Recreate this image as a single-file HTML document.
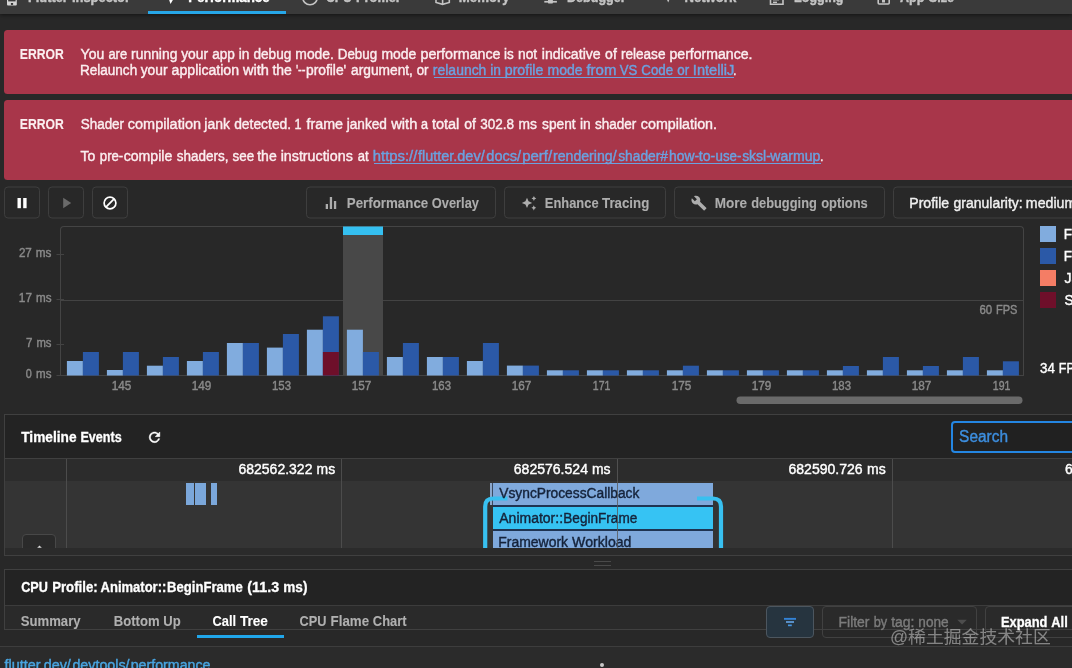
<!DOCTYPE html>
<html><head><meta charset="utf-8"><title>Flutter DevTools - Performance</title>
<style>
html,body{margin:0;padding:0;background:#282828;}
body{width:1072px;height:668px;overflow:hidden;position:relative;font-family:'Liberation Sans','Noto Sans CJK SC',sans-serif;}
.t{position:absolute;left:0;white-space:pre;transform-origin:0 0;font-family:'Liberation Sans','Noto Sans CJK SC',sans-serif;}
.abs{position:absolute;}
.card{position:absolute;left:4px;width:1080px;background:#a8364a;border-radius:3.5px;}
.btn{position:absolute;top:187px;height:30px;transform:translateY(-0.5px);border:1px solid #3e3e3e;border-radius:4px;background:#282828;}
.hl{position:absolute;height:1px;background:#404040;}
svg{position:absolute;left:0;top:0;overflow:visible;}
</style></head><body>
<!-- top tab bar -->
<div class="abs" style="left:0;top:0;width:1072px;height:14px;background:#3a3a3a;box-shadow:0 1px 4px rgba(0,0,0,0.55);"></div>
<div class="abs" style="left:148px;top:11.3px;width:138px;height:2.7px;background:#27a7e8;"></div>

<!-- error cards -->
<div class="card" style="top:30px;height:64px;"></div>
<div class="card" style="top:100px;height:80px;"></div>

<!-- toolbar buttons -->
<div class="btn" style="left:4px;width:34px;"></div>
<div class="btn" style="left:48px;width:34px;"></div>
<div class="btn" style="left:92px;width:34px;"></div>
<div class="btn" style="left:306px;width:188px;"></div>
<div class="btn" style="left:504px;width:160px;"></div>
<div class="btn" style="left:674px;width:209px;"></div>
<div class="btn" style="left:893px;width:200px;"></div>

<!-- chart -->
<div class="abs" style="left:60px;top:226px;width:964px;height:160px;border:1px solid #444;border-bottom:none;border-radius:4px 4px 0 0;box-sizing:border-box;height:150px;"></div>
<svg width="1072" height="668" viewBox="0 0 1072 668">
<g stroke="#434343" stroke-width="1">
<line x1="56.5" y1="254.5" x2="64" y2="254.5"/>
<line x1="56.5" y1="299.5" x2="64" y2="299.5"/><line x1="61" y1="300.5" x2="1023.5" y2="300.5"/>
<line x1="56.5" y1="344.5" x2="64" y2="344.5"/>
<line x1="56.5" y1="375.5" x2="1023.5" y2="375.5"/>
</g>
<rect x="343" y="226.5" width="40" height="149" fill="#484848"/><rect x="343" y="226.5" width="40" height="8.5" fill="#35c0f1"/>
<rect x="66.9" y="361" width="16" height="14.5" fill="#81acde"/><rect x="82.9" y="352" width="16" height="23.5" fill="#2b59a7"/><rect x="106.9" y="370" width="16" height="5.5" fill="#81acde"/><rect x="122.9" y="352" width="16" height="23.5" fill="#2b59a7"/><rect x="146.9" y="365.7" width="16" height="9.8" fill="#81acde"/><rect x="162.9" y="357" width="16" height="18.5" fill="#2b59a7"/><rect x="186.9" y="361" width="16" height="14.5" fill="#81acde"/><rect x="202.9" y="352" width="16" height="23.5" fill="#2b59a7"/><rect x="226.9" y="343" width="16" height="32.5" fill="#81acde"/><rect x="242.9" y="343" width="16" height="32.5" fill="#2b59a7"/><rect x="266.9" y="347.6" width="16" height="27.9" fill="#81acde"/><rect x="282.9" y="334" width="16" height="41.5" fill="#2b59a7"/><rect x="306.9" y="329.7" width="16" height="45.8" fill="#81acde"/><rect x="322.9" y="316.3" width="16" height="59.2" fill="#2b59a7"/><rect x="322.9" y="352" width="16" height="23.5" fill="#6e0f2a"/><rect x="346.9" y="329.7" width="16" height="45.8" fill="#81acde"/><rect x="362.9" y="352" width="16" height="23.5" fill="#2b59a7"/><rect x="386.9" y="357" width="16" height="18.5" fill="#81acde"/><rect x="402.9" y="343" width="16" height="32.5" fill="#2b59a7"/><rect x="426.9" y="357" width="16" height="18.5" fill="#81acde"/><rect x="442.9" y="357" width="16" height="18.5" fill="#2b59a7"/><rect x="466.9" y="361" width="16" height="14.5" fill="#81acde"/><rect x="482.9" y="343" width="16" height="32.5" fill="#2b59a7"/><rect x="506.9" y="365.6" width="16" height="9.9" fill="#81acde"/><rect x="522.9" y="365.6" width="16" height="9.9" fill="#2b59a7"/><rect x="546.9" y="370.3" width="16" height="5.2" fill="#81acde"/><rect x="562.9" y="370.3" width="16" height="5.2" fill="#2b59a7"/><rect x="586.9" y="370.3" width="16" height="5.2" fill="#81acde"/><rect x="602.9" y="370.3" width="16" height="5.2" fill="#2b59a7"/><rect x="626.9" y="370.3" width="16" height="5.2" fill="#81acde"/><rect x="642.9" y="370.3" width="16" height="5.2" fill="#2b59a7"/><rect x="666.9" y="370.3" width="16" height="5.2" fill="#81acde"/><rect x="682.9" y="365.7" width="16" height="9.8" fill="#2b59a7"/><rect x="706.9" y="370.3" width="16" height="5.2" fill="#81acde"/><rect x="722.9" y="370.3" width="16" height="5.2" fill="#2b59a7"/><rect x="746.9" y="370.3" width="16" height="5.2" fill="#81acde"/><rect x="762.9" y="370.3" width="16" height="5.2" fill="#2b59a7"/><rect x="786.9" y="370.3" width="16" height="5.2" fill="#81acde"/><rect x="802.9" y="370.3" width="16" height="5.2" fill="#2b59a7"/><rect x="826.9" y="370.3" width="16" height="5.2" fill="#81acde"/><rect x="842.9" y="366" width="16" height="9.5" fill="#2b59a7"/><rect x="866.9" y="370.3" width="16" height="5.2" fill="#81acde"/><rect x="882.9" y="357" width="16" height="18.5" fill="#2b59a7"/><rect x="906.9" y="370.3" width="16" height="5.2" fill="#81acde"/><rect x="922.9" y="366" width="16" height="9.5" fill="#2b59a7"/><rect x="946.9" y="370.3" width="16" height="5.2" fill="#81acde"/><rect x="962.9" y="357" width="16" height="18.5" fill="#2b59a7"/><rect x="986.9" y="370.3" width="16" height="5.2" fill="#81acde"/><rect x="1002.9" y="361.3" width="16" height="14.2" fill="#2b59a7"/>
<rect x="736.5" y="396.5" width="286" height="7.5" rx="3.75" fill="#6a6a6a"/>
<!-- legend -->
<rect x="1040" y="226" width="16" height="16" fill="#81acde"/>
<rect x="1040" y="248" width="16" height="16" fill="#2b59a7"/>
<rect x="1040" y="270" width="16" height="16" fill="#f47d65"/>
<rect x="1040" y="292" width="16" height="16" fill="#6e0f2a"/>
</svg>

<!-- timeline events panel -->
<div class="abs" style="left:4px;top:414px;width:1080px;height:142px;border:1px solid #404040;box-sizing:border-box;background:#2b2b2b;"></div>
<div class="abs" style="left:5px;top:415px;width:1067px;height:43px;background:#232323;"></div>
<div class="hl" style="left:5px;top:458px;width:1067px;"></div>
<div class="abs" style="left:5px;top:459px;width:1067px;height:22px;background:#2c2c2c;"></div>
<div class="abs" style="left:5px;top:481px;width:1067px;height:67px;background:#343434;"></div>
<!-- vertical grid lines -->
<div class="abs" style="left:66px;top:459px;width:1px;height:89px;background:#4c4c4c;"></div>
<div class="abs" style="left:341px;top:459px;width:1px;height:89px;background:#4c4c4c;"></div>
<div class="abs" style="left:892px;top:459px;width:1px;height:89px;background:#4c4c4c;"></div>
<!-- small events -->
<div class="abs" style="left:186px;top:483px;width:7.5px;height:22px;background:#7ba7da;"></div>
<div class="abs" style="left:194.7px;top:483px;width:11.3px;height:22px;background:#7ba7da;"></div>
<div class="abs" style="left:210.5px;top:483px;width:6px;height:22px;background:#7ba7da;"></div>
<!-- expand button bottom-left -->
<div class="abs" style="left:22px;top:534px;width:34px;height:14px;overflow:hidden;"><div style="width:32px;height:30px;border:1px solid #484848;border-radius:4px;background:#2a2a2a;"></div></div>
<!-- events -->
<div class="abs" style="left:0;top:0;width:1072px;height:547.8px;overflow:hidden;will-change:transform;">
<div class="abs" style="left:490.2px;top:482.8px;width:1.6px;height:22.4px;background:#8ba7cc;"></div>
<div class="abs" style="left:491.8px;top:482.8px;width:1.2px;height:22.4px;background:#3b4a60;"></div>
<div class="abs" style="left:493px;top:482.8px;width:219.6px;height:70px;background:#1f3452;"></div>
<div class="abs" style="left:493px;top:482.8px;width:219.6px;height:22.4px;background:#7fa9dc;"></div>
<div class="abs" style="left:493px;top:507px;width:219.6px;height:21.7px;background:#36c3f3;"></div>
<div class="abs" style="left:493px;top:530.5px;width:219.6px;height:22px;background:#7fa9dc;"></div>
<svg width="1072" height="668" viewBox="0 0 1072 668" fill="none" stroke="#38c0f0" stroke-width="4.2">
<path d="M485.200 560 V506.500 Q485.200 498.500 493.200 498.500 H507.500"/>
<path d="M721 560 V506.500 Q721 498.500 713 498.500 H697"/>
</svg>
<div><span class="t" style="top:486px;font-size:14px;line-height:14px;color:#15233a;transform:translateX(499.27px) scaleX(0.9841);-webkit-text-stroke:0.4px currentColor;">VsyncProcessCallback</span></div>
<div><span class="t" style="top:511px;font-size:14px;line-height:14px;color:#15233a;transform:translateX(499.29px) scaleX(0.9991);-webkit-text-stroke:0.4px currentColor;">Animator::</span><span class="t" style="top:511px;font-size:14px;line-height:14px;color:#15233a;transform:translateX(563.27px) scaleX(0.9702);-webkit-text-stroke:0.4px currentColor;">BeginFrame</span></div>
<div><span class="t" style="top:535px;font-size:14px;line-height:14px;color:#15233a;transform:translateX(498.28px) scaleX(0.9962);-webkit-text-stroke:0.4px currentColor;">Framework </span><span class="t" style="top:535px;font-size:14px;line-height:14px;color:#15233a;transform:translateX(572.12px) scaleX(1.0070);-webkit-text-stroke:0.4px currentColor;">Workload</span></div>
</div>
<div class="abs" style="left:617px;top:459px;width:1px;height:89px;background:rgba(90,90,90,0.8);"></div>

<!-- splitter -->
<div class="abs" style="left:594px;top:561px;width:17px;height:1px;background:#4a4a4a;"></div>
<div class="abs" style="left:594px;top:565px;width:17px;height:1px;background:#4a4a4a;"></div>

<!-- cpu profile panel -->
<div class="abs" style="left:4px;top:569px;width:1080px;height:61px;border:1px solid #404040;box-sizing:border-box;background:#2a2a2a;"></div>
<div class="abs" style="left:5px;top:570px;width:1067px;height:35px;background:#232323;"></div>
<div class="hl" style="left:5px;top:605px;width:1067px;background:#3c3c3c;"></div>
<div class="abs" style="left:197px;top:634.5px;width:87px;height:3.5px;background:#20a6ea;"></div>
<div class="hl" style="left:0;top:645.5px;width:1072px;background:#3d3d3d;"></div>
<div class="abs" style="left:0;top:647px;width:1072px;height:21px;background:#2b2b2b;"></div>
<!-- filter btn -->
<div class="abs" style="left:766px;top:606px;width:48px;height:32px;box-sizing:border-box;border:1px solid #4c565f;border-radius:4px;background:#26343f;"></div>
<div class="abs" style="left:822px;top:606px;width:155px;height:32px;box-sizing:border-box;border:1px solid #414141;border-radius:4px;"></div>
<div class="abs" style="left:985px;top:606px;width:100px;height:32px;box-sizing:border-box;border:1px solid #414141;border-radius:4px;"></div>
<!-- search -->
<div class="abs" style="left:951px;top:420.5px;width:140px;height:32px;box-sizing:border-box;border:2px solid #2486e2;border-radius:4px;background:#212121;"></div>
<div class="abs" style="left:599.5px;top:663px;width:4px;height:4px;border-radius:2px;background:#c8c8c8;"></div>

<!-- icons -->
<svg width="1072" height="668" viewBox="0 0 1072 668">
<!-- pause -->
<rect x="17.5" y="198" width="3.4" height="10.2" fill="#fff"/><rect x="23.2" y="198" width="3.4" height="10.2" fill="#fff"/>
<!-- play -->
<path d="M63.2 197.8 L71.2 203 L63.2 208.2 Z" fill="#6a6a6a"/>
<!-- block -->
<circle cx="110" cy="203" r="5.9" fill="none" stroke="#fff" stroke-width="1.7"/><line x1="105.9" y1="207.1" x2="114.1" y2="198.9" stroke="#fff" stroke-width="1.7"/>
<!-- bar chart -->
<g fill="#adadad"><rect x="325.7" y="204" width="2.3" height="5"/><rect x="329.8" y="197" width="2.3" height="12"/><rect x="333.9" y="201" width="2.3" height="8"/></g>
<!-- sparkles -->
<g fill="#adadad">
<path d="M527 197.8 L528.56 201.37 L532.2 202.9 L528.56 204.43 L527 208.0 L525.44 204.43 L521.8 202.9 L525.44 201.37 Z"/>
<path d="M533.9 195.9 L534.69 197.58 L536.3 198.4 L534.69 199.22 L533.9 200.9 L533.11 199.22 L531.5 198.4 L533.11 197.58 Z"/>
<path d="M533.8 205.20000000000002 L534.59 206.94 L536.1999999999999 207.8 L534.59 208.66 L533.8 210.4 L533.01 208.66 L531.4 207.8 L533.01 206.94 Z"/>
</g>
<!-- wrench -->
<g transform="translate(690.8,195.1) scale(0.68,0.672)"><path fill="#adadad" d="M22.7 19l-9.1-9.1c.9-2.3.4-5-1.500-6.900-2-2-5-2.400-7.400-1.300L9 6 6 9 1.600 4.700C.4 7.100.9 10.100 2.900 12.100c1.900 1.900 4.600 2.400 6.900 1.500l9.100 9.100c.4.400 1 .4 1.400 0l2.300-2.300c.5-.4.500-1.100.1-1.400z"/></g>
<!-- refresh -->
<g transform="translate(146.5,429.3) scale(0.667)"><path fill="#fff" stroke="#fff" stroke-width="0.7" d="M17.650 6.350C16.200 4.900 14.210 4 12 4c-4.420 0-7.990 3.580-7.990 8s3.570 8 7.990 8c3.730 0 6.840-2.550 7.730-6h-2.080c-.82 2.330-3.040 4-5.650 4-3.310 0-6-2.690-6-6s2.690-6 6-6c1.660 0 3.140.69 4.220 1.780L13 11h7V4l-2.350 2.350z"/></g>
<!-- filter list -->
<rect x="784" y="617.9" width="12" height="1.9" fill="#3383d6"/><rect x="786" y="621.1" width="8" height="1.8" fill="#5f9ad6"/><rect x="788" y="624.5" width="3.8" height="1.7" fill="#4595e0"/>
<!-- dropdown arrow -->
<path d="M957.3 619.8 L966.8 619.8 L962.05 624.5 Z" fill="#4d4d4d"/>
<!-- expand chevron (clipped) -->
<path d="M36 550.2 L39.5 546.7 L43 550.2" fill="none" stroke="#ddd" stroke-width="1.6" clip-path="url(#cpc)"/>
<clipPath id="cpc"><rect x="30" y="540" width="20" height="7.8"/></clipPath>
</svg>

<!-- top tab icons (clipped by viewport) -->
<svg width="1072" height="14" viewBox="0 0 1072 14" style="overflow:hidden">
<g fill="none" stroke="#c4c4c4" stroke-width="1.6">
<circle cx="310" cy="-2.6" r="7.3"/>
<path d="M436 -6 V2.500 L442.600 4.300 L449.300 2.500 V-6"/><path d="M442.600 -4 V4.300"/>
<rect x="878.2" y="-8" width="11" height="12" rx="1"/>
<path d="M770.500 -8 V4.200 H783 V-8"/>
</g>
<rect x="7" y="-8" width="9.800" height="13.600" rx="1" fill="#d4d4d4"/><rect x="8.200" y="-6" width="7.400" height="7.400" fill="#3a3a3a"/><rect x="10.900" y="3.100" width="2.200" height="1.700" fill="#222"/>
<path d="M167.800 -4 L175.300 -4 L170.500 3.900 Z" fill="#fff"/>
<path d="M665.800 -3 H670.600 L668.200 2.600 Z" fill="#c4c4c4"/>
<rect x="548" y="-8" width="4.900" height="11.600" rx="1.200" fill="#c4c4c4"/><rect x="544.300" y="0.900" width="12.600" height="1.700" fill="#c4c4c4"/>
<rect x="882" y="0" width="3" height="2.500" fill="#c4c4c4"/>
<rect x="773" y="-1" width="6" height="1.400" fill="#c4c4c4"/><rect x="773" y="1.600" width="4" height="1.400" fill="#c4c4c4"/>
</svg>

<!-- text -->
<div class="abs" style="left:0;top:0;width:1072px;height:668px;will-change:transform;">
<div><span class="t" style="top:-10px;font-size:14px;line-height:14px;color:#c4c4c4;transform:translateX(27.97px) scaleX(0.9140);-webkit-text-stroke:0.45px currentColor;font-weight:bold;">Flutter </span><span class="t" style="top:-10px;font-size:14px;line-height:14px;color:#c4c4c4;transform:translateX(71.92px) scaleX(0.9219);-webkit-text-stroke:0.45px currentColor;font-weight:bold;">Inspector</span></div>
<div><span class="t" style="top:-10px;font-size:14px;line-height:14px;color:#ffffff;transform:translateX(188.14px) scaleX(0.9521);-webkit-text-stroke:0.45px currentColor;font-weight:bold;">Performance</span></div>
<div><span class="t" style="top:-10px;font-size:14px;line-height:14px;color:#c4c4c4;transform:translateX(326.00px) scaleX(0.8726);-webkit-text-stroke:0.45px currentColor;font-weight:bold;">CPU </span><span class="t" style="top:-10px;font-size:14px;line-height:14px;color:#c4c4c4;transform:translateX(356.02px) scaleX(0.9139);-webkit-text-stroke:0.45px currentColor;font-weight:bold;">Profiler</span></div>
<div><span class="t" style="top:-10px;font-size:14px;line-height:14px;color:#c4c4c4;transform:translateX(458.85px) scaleX(0.9435);-webkit-text-stroke:0.45px currentColor;font-weight:bold;">Memory</span></div>
<div><span class="t" style="top:-10px;font-size:14px;line-height:14px;color:#c4c4c4;transform:translateX(566.97px) scaleX(0.8989);-webkit-text-stroke:0.45px currentColor;font-weight:bold;">Debugger</span></div>
<div><span class="t" style="top:-10px;font-size:14px;line-height:14px;color:#c4c4c4;transform:translateX(684.45px) scaleX(0.9364);-webkit-text-stroke:0.45px currentColor;font-weight:bold;">Network</span></div>
<div><span class="t" style="top:-10px;font-size:14px;line-height:14px;color:#c4c4c4;transform:translateX(794.08px) scaleX(0.8950);-webkit-text-stroke:0.45px currentColor;font-weight:bold;">Logging</span></div>
<div><span class="t" style="top:-10px;font-size:14px;line-height:14px;color:#c4c4c4;transform:translateX(900.00px) scaleX(0.8946);-webkit-text-stroke:0.45px currentColor;font-weight:bold;">App </span><span class="t" style="top:-10px;font-size:14px;line-height:14px;color:#c4c4c4;transform:translateX(928.72px) scaleX(0.9029);-webkit-text-stroke:0.45px currentColor;font-weight:bold;">Size</span></div>
<div><span class="t" style="top:47px;font-size:14px;line-height:14px;color:#fbeef0;transform:translateX(19.82px) scaleX(0.8699);-webkit-text-stroke:0.1px currentColor;font-weight:bold;">ERROR</span></div>
<div><span class="t" style="top:47px;font-size:14px;line-height:14px;color:#fbeef0;transform:translateX(80.60px) scaleX(0.9985);-webkit-text-stroke:0.4px currentColor;">You </span><span class="t" style="top:47px;font-size:14px;line-height:14px;color:#fbeef0;transform:translateX(108.42px) scaleX(0.9224);-webkit-text-stroke:0.4px currentColor;">are </span><span class="t" style="top:47px;font-size:14px;line-height:14px;color:#fbeef0;transform:translateX(131.10px) scaleX(0.9902);-webkit-text-stroke:0.4px currentColor;">running </span><span class="t" style="top:47px;font-size:14px;line-height:14px;color:#fbeef0;transform:translateX(181.19px) scaleX(0.9892);-webkit-text-stroke:0.4px currentColor;">your </span><span class="t" style="top:47px;font-size:14px;line-height:14px;color:#fbeef0;transform:translateX(212.22px) scaleX(0.9674);-webkit-text-stroke:0.4px currentColor;">app </span><span class="t" style="top:47px;font-size:14px;line-height:14px;color:#fbeef0;transform:translateX(238.68px) scaleX(0.9816);-webkit-text-stroke:0.4px currentColor;">in </span><span class="t" style="top:47px;font-size:14px;line-height:14px;color:#fbeef0;transform:translateX(253.49px) scaleX(0.9707);-webkit-text-stroke:0.4px currentColor;">debug </span><span class="t" style="top:47px;font-size:14px;line-height:14px;color:#fbeef0;transform:translateX(295.31px) scaleX(0.9920);-webkit-text-stroke:0.4px currentColor;">mode. </span><span class="t" style="top:47px;font-size:14px;line-height:14px;color:#fbeef0;transform:translateX(337.83px) scaleX(0.9521);-webkit-text-stroke:0.4px currentColor;">Debug </span><span class="t" style="top:47px;font-size:14px;line-height:14px;color:#fbeef0;transform:translateX(381.45px) scaleX(0.9961);-webkit-text-stroke:0.4px currentColor;">mode </span><span class="t" style="top:47px;font-size:14px;line-height:14px;color:#fbeef0;transform:translateX(420.49px) scaleX(1.0187);-webkit-text-stroke:0.4px currentColor;">performance </span><span class="t" style="top:47px;font-size:14px;line-height:14px;color:#fbeef0;transform:translateX(504.04px) scaleX(0.9577);-webkit-text-stroke:0.4px currentColor;">is </span><span class="t" style="top:47px;font-size:14px;line-height:14px;color:#fbeef0;transform:translateX(518.01px) scaleX(0.9833);-webkit-text-stroke:0.4px currentColor;">not </span><span class="t" style="top:47px;font-size:14px;line-height:14px;color:#fbeef0;transform:translateX(541.82px) scaleX(1.0091);-webkit-text-stroke:0.4px currentColor;">indicative </span><span class="t" style="top:47px;font-size:14px;line-height:14px;color:#fbeef0;transform:translateX(605.09px) scaleX(1.0000);-webkit-text-stroke:0.4px currentColor;">of </span><span class="t" style="top:47px;font-size:14px;line-height:14px;color:#fbeef0;transform:translateX(620.92px) scaleX(0.9697);-webkit-text-stroke:0.4px currentColor;">release </span><span class="t" style="top:47px;font-size:14px;line-height:14px;color:#fbeef0;transform:translateX(669.45px) scaleX(1.0072);-webkit-text-stroke:0.4px currentColor;">performance.</span></div>
<div><span class="t" style="top:63px;font-size:14px;line-height:14px;color:#fbeef0;transform:translateX(79.90px) scaleX(0.9686);-webkit-text-stroke:0.4px currentColor;">Relaunch </span><span class="t" style="top:63px;font-size:14px;line-height:14px;color:#fbeef0;transform:translateX(140.65px) scaleX(0.9864);-webkit-text-stroke:0.4px currentColor;">your </span><span class="t" style="top:63px;font-size:14px;line-height:14px;color:#fbeef0;transform:translateX(171.60px) scaleX(1.0075);-webkit-text-stroke:0.4px currentColor;">application </span><span class="t" style="top:63px;font-size:14px;line-height:14px;color:#fbeef0;transform:translateX(242.95px) scaleX(1.0416);-webkit-text-stroke:0.4px currentColor;">with </span><span class="t" style="top:63px;font-size:14px;line-height:14px;color:#fbeef0;transform:translateX(272.39px) scaleX(1.0004);-webkit-text-stroke:0.4px currentColor;">the </span><span class="t" style="top:63px;font-size:14px;line-height:14px;color:#fbeef0;transform:translateX(295.98px) scaleX(0.8000);-webkit-text-stroke:0.4px currentColor;">'--</span><span class="t" style="top:63px;font-size:14px;line-height:14px;color:#fbeef0;transform:translateX(305.95px) scaleX(0.9876);-webkit-text-stroke:0.4px currentColor;">profile' </span><span class="t" style="top:63px;font-size:14px;line-height:14px;color:#fbeef0;transform:translateX(351.01px) scaleX(0.9825);-webkit-text-stroke:0.4px currentColor;">argument, </span><span class="t" style="top:63px;font-size:14px;line-height:14px;color:#fbeef0;transform:translateX(416.65px) scaleX(0.9497);-webkit-text-stroke:0.4px currentColor;">or</span></div>
<div><span class="t" style="top:63px;font-size:14px;line-height:14px;color:#6aa2e0;transform:translateX(432.87px) scaleX(0.9962);-webkit-text-stroke:0.4px currentColor;">relaunch </span><span class="t" style="top:63px;font-size:14px;line-height:14px;color:#6aa2e0;transform:translateX(490.22px) scaleX(0.9874);-webkit-text-stroke:0.4px currentColor;">in </span><span class="t" style="top:63px;font-size:14px;line-height:14px;color:#6aa2e0;transform:translateX(504.82px) scaleX(1.0077);-webkit-text-stroke:0.4px currentColor;">profile </span><span class="t" style="top:63px;font-size:14px;line-height:14px;color:#6aa2e0;transform:translateX(547.46px) scaleX(1.0019);-webkit-text-stroke:0.4px currentColor;">mode </span><span class="t" style="top:63px;font-size:14px;line-height:14px;color:#6aa2e0;transform:translateX(586.41px) scaleX(1.0693);-webkit-text-stroke:0.4px currentColor;">from </span><span class="t" style="top:63px;font-size:14px;line-height:14px;color:#6aa2e0;transform:translateX(619.83px) scaleX(0.9387);-webkit-text-stroke:0.4px currentColor;">VS </span><span class="t" style="top:63px;font-size:14px;line-height:14px;color:#6aa2e0;transform:translateX(641.33px) scaleX(0.9475);-webkit-text-stroke:0.4px currentColor;">Code </span><span class="t" style="top:63px;font-size:14px;line-height:14px;color:#6aa2e0;transform:translateX(677.20px) scaleX(0.9580);-webkit-text-stroke:0.4px currentColor;">or </span><span class="t" style="top:63px;font-size:14px;line-height:14px;color:#6aa2e0;transform:translateX(692.83px) scaleX(1.0428);-webkit-text-stroke:0.4px currentColor;">IntelliJ</span></div>
<div><span class="t" style="top:63px;font-size:14px;line-height:14px;color:#fbeef0;transform:translateX(732.91px) scaleX(0.9000);-webkit-text-stroke:0.4px currentColor;">.</span></div>
<div><span class="t" style="top:117px;font-size:14px;line-height:14px;color:#fbeef0;transform:translateX(19.82px) scaleX(0.8699);-webkit-text-stroke:0.1px currentColor;font-weight:bold;">ERROR</span></div>
<div><span class="t" style="top:117px;font-size:14px;line-height:14px;color:#fbeef0;transform:translateX(80.70px) scaleX(0.9605);-webkit-text-stroke:0.4px currentColor;">Shader </span><span class="t" style="top:117px;font-size:14px;line-height:14px;color:#fbeef0;transform:translateX(127.86px) scaleX(1.0323);-webkit-text-stroke:0.4px currentColor;">compilation </span><span class="t" style="top:117px;font-size:14px;line-height:14px;color:#fbeef0;transform:translateX(204.29px) scaleX(0.9991);-webkit-text-stroke:0.4px currentColor;">jank </span><span class="t" style="top:117px;font-size:14px;line-height:14px;color:#fbeef0;transform:translateX(234.16px) scaleX(0.9893);-webkit-text-stroke:0.4px currentColor;">detected. </span><span class="t" style="top:117px;font-size:14px;line-height:14px;color:#fbeef0;transform:translateX(294.51px) scaleX(0.9000);-webkit-text-stroke:0.4px currentColor;">1 </span><span class="t" style="top:117px;font-size:14px;line-height:14px;color:#fbeef0;transform:translateX(306.57px) scaleX(1.0194);-webkit-text-stroke:0.4px currentColor;">frame </span><span class="t" style="top:117px;font-size:14px;line-height:14px;color:#fbeef0;transform:translateX(346.66px) scaleX(0.9759);-webkit-text-stroke:0.4px currentColor;">janked </span><span class="t" style="top:117px;font-size:14px;line-height:14px;color:#fbeef0;transform:translateX(391.24px) scaleX(1.0458);-webkit-text-stroke:0.4px currentColor;">with </span><span class="t" style="top:117px;font-size:14px;line-height:14px;color:#fbeef0;transform:translateX(421.06px) scaleX(0.9000);-webkit-text-stroke:0.4px currentColor;">a </span><span class="t" style="top:117px;font-size:14px;line-height:14px;color:#fbeef0;transform:translateX(431.88px) scaleX(1.0381);-webkit-text-stroke:0.4px currentColor;">total </span><span class="t" style="top:117px;font-size:14px;line-height:14px;color:#fbeef0;transform:translateX(464.17px) scaleX(1.0000);-webkit-text-stroke:0.4px currentColor;">of </span><span class="t" style="top:117px;font-size:14px;line-height:14px;color:#fbeef0;transform:translateX(480.33px) scaleX(0.9634);-webkit-text-stroke:0.4px currentColor;">302.8 </span><span class="t" style="top:117px;font-size:14px;line-height:14px;color:#fbeef0;transform:translateX(518.60px) scaleX(0.9847);-webkit-text-stroke:0.4px currentColor;">ms </span><span class="t" style="top:117px;font-size:14px;line-height:14px;color:#fbeef0;transform:translateX(542.07px) scaleX(0.9788);-webkit-text-stroke:0.4px currentColor;">spent </span><span class="t" style="top:117px;font-size:14px;line-height:14px;color:#fbeef0;transform:translateX(579.97px) scaleX(0.9828);-webkit-text-stroke:0.4px currentColor;">in </span><span class="t" style="top:117px;font-size:14px;line-height:14px;color:#fbeef0;transform:translateX(594.96px) scaleX(0.9661);-webkit-text-stroke:0.4px currentColor;">shader </span><span class="t" style="top:117px;font-size:14px;line-height:14px;color:#fbeef0;transform:translateX(640.84px) scaleX(1.0191);-webkit-text-stroke:0.4px currentColor;">compilation.</span></div>
<div><span class="t" style="top:149px;font-size:14px;line-height:14px;color:#fbeef0;transform:translateX(80.41px) scaleX(1.0000);-webkit-text-stroke:0.4px currentColor;">To </span><span class="t" style="top:149px;font-size:14px;line-height:14px;color:#fbeef0;transform:translateX(99.80px) scaleX(0.9410);-webkit-text-stroke:0.4px currentColor;">pre-</span><span class="t" style="top:149px;font-size:14px;line-height:14px;color:#fbeef0;transform:translateX(123.69px) scaleX(1.0076);-webkit-text-stroke:0.4px currentColor;">compile </span><span class="t" style="top:149px;font-size:14px;line-height:14px;color:#fbeef0;transform:translateX(176.78px) scaleX(0.9616);-webkit-text-stroke:0.4px currentColor;">shaders, </span><span class="t" style="top:149px;font-size:14px;line-height:14px;color:#fbeef0;transform:translateX(232.58px) scaleX(0.9551);-webkit-text-stroke:0.4px currentColor;">see </span><span class="t" style="top:149px;font-size:14px;line-height:14px;color:#fbeef0;transform:translateX(257.22px) scaleX(0.9999);-webkit-text-stroke:0.4px currentColor;">the </span><span class="t" style="top:149px;font-size:14px;line-height:14px;color:#fbeef0;transform:translateX(280.67px) scaleX(1.0180);-webkit-text-stroke:0.4px currentColor;">instructions </span><span class="t" style="top:149px;font-size:14px;line-height:14px;color:#fbeef0;transform:translateX(357.77px) scaleX(0.9357);-webkit-text-stroke:0.4px currentColor;">at</span></div>
<div><span class="t" style="top:149px;font-size:14px;line-height:14px;color:#6aa2e0;transform:translateX(372.79px) scaleX(1.0594);-webkit-text-stroke:0.4px currentColor;">https://</span><span class="t" style="top:149px;font-size:14px;line-height:14px;color:#6aa2e0;transform:translateX(417.97px) scaleX(1.0323);-webkit-text-stroke:0.4px currentColor;">flutter.dev/</span><span class="t" style="top:149px;font-size:14px;line-height:14px;color:#6aa2e0;transform:translateX(486.29px) scaleX(1.0415);-webkit-text-stroke:0.4px currentColor;">docs/</span><span class="t" style="top:149px;font-size:14px;line-height:14px;color:#6aa2e0;transform:translateX(522.20px) scaleX(1.0690);-webkit-text-stroke:0.4px currentColor;">perf/</span><span class="t" style="top:149px;font-size:14px;line-height:14px;color:#6aa2e0;transform:translateX(553.02px) scaleX(1.0079);-webkit-text-stroke:0.4px currentColor;">rendering/</span><span class="t" style="top:149px;font-size:14px;line-height:14px;color:#6aa2e0;transform:translateX(618.18px) scaleX(0.9855);-webkit-text-stroke:0.4px currentColor;">shader#</span><span class="t" style="top:149px;font-size:14px;line-height:14px;color:#6aa2e0;transform:translateX(668.95px) scaleX(0.9916);-webkit-text-stroke:0.4px currentColor;">how-</span><span class="t" style="top:149px;font-size:14px;line-height:14px;color:#6aa2e0;transform:translateX(698.79px) scaleX(1.0093);-webkit-text-stroke:0.4px currentColor;">to-</span><span class="t" style="top:149px;font-size:14px;line-height:14px;color:#6aa2e0;transform:translateX(715.48px) scaleX(0.9499);-webkit-text-stroke:0.4px currentColor;">use-</span><span class="t" style="top:149px;font-size:14px;line-height:14px;color:#6aa2e0;transform:translateX(742.15px) scaleX(0.9963);-webkit-text-stroke:0.4px currentColor;">sksl-</span><span class="t" style="top:149px;font-size:14px;line-height:14px;color:#6aa2e0;transform:translateX(770.32px) scaleX(1.0036);-webkit-text-stroke:0.4px currentColor;">warmup</span></div>
<div><span class="t" style="top:149px;font-size:14px;line-height:14px;color:#fbeef0;transform:translateX(819.91px) scaleX(0.9000);-webkit-text-stroke:0.4px currentColor;">.</span></div>
<div><span class="t" style="top:196px;font-size:14px;line-height:14px;color:#adadad;transform:translateX(346.76px) scaleX(0.9515);-webkit-text-stroke:0.1px currentColor;font-weight:bold;">Performance </span><span class="t" style="top:196px;font-size:14px;line-height:14px;color:#adadad;transform:translateX(431.85px) scaleX(0.9160);-webkit-text-stroke:0.1px currentColor;font-weight:bold;">Overlay</span></div>
<div><span class="t" style="top:196px;font-size:14px;line-height:14px;color:#adadad;transform:translateX(544.78px) scaleX(0.9220);-webkit-text-stroke:0.1px currentColor;font-weight:bold;">Enhance </span><span class="t" style="top:196px;font-size:14px;line-height:14px;color:#adadad;transform:translateX(602.03px) scaleX(0.9483);-webkit-text-stroke:0.1px currentColor;font-weight:bold;">Tracing</span></div>
<div><span class="t" style="top:196px;font-size:14px;line-height:14px;color:#adadad;transform:translateX(714.75px) scaleX(0.9672);-webkit-text-stroke:0.1px currentColor;font-weight:bold;">More </span><span class="t" style="top:196px;font-size:14px;line-height:14px;color:#adadad;transform:translateX(751.16px) scaleX(0.9180);-webkit-text-stroke:0.1px currentColor;font-weight:bold;">debugging </span><span class="t" style="top:196px;font-size:14px;line-height:14px;color:#adadad;transform:translateX(821.17px) scaleX(0.9216);-webkit-text-stroke:0.1px currentColor;font-weight:bold;">options</span></div>
<div><span class="t" style="top:196px;font-size:14px;line-height:14px;color:#f0f0f0;transform:translateX(909.32px) scaleX(1.0025);-webkit-text-stroke:0.4px currentColor;">Profile </span><span class="t" style="top:196px;font-size:14px;line-height:14px;color:#f0f0f0;transform:translateX(953.59px) scaleX(0.9975);-webkit-text-stroke:0.4px currentColor;">granularity:</span></div>
<div><span class="t" style="top:196px;font-size:14px;line-height:14px;color:#f0f0f0;transform:translateX(1025.84px) scaleX(1.0124);-webkit-text-stroke:0.4px currentColor;">medium</span></div>
<div><span class="t" style="top:247px;font-size:12px;line-height:12px;color:#8a8a8a;transform:translateX(18.90px) scaleX(0.9687);-webkit-text-stroke:0.4px currentColor;">27 </span><span class="t" style="top:247px;font-size:12px;line-height:12px;color:#8a8a8a;transform:translateX(35.84px) scaleX(0.9785);-webkit-text-stroke:0.4px currentColor;">ms</span></div>
<div><span class="t" style="top:292px;font-size:12px;line-height:12px;color:#8a8a8a;transform:translateX(18.83px) scaleX(0.9808);-webkit-text-stroke:0.4px currentColor;">17 </span><span class="t" style="top:292px;font-size:12px;line-height:12px;color:#8a8a8a;transform:translateX(35.91px) scaleX(0.9741);-webkit-text-stroke:0.4px currentColor;">ms</span></div>
<div><span class="t" style="top:337px;font-size:12px;line-height:12px;color:#8a8a8a;transform:translateX(26.10px) scaleX(0.9621);-webkit-text-stroke:0.4px currentColor;">7 </span><span class="t" style="top:337px;font-size:12px;line-height:12px;color:#8a8a8a;transform:translateX(36.42px) scaleX(0.9425);-webkit-text-stroke:0.4px currentColor;">ms</span></div>
<div><span class="t" style="top:368px;font-size:12px;line-height:12px;color:#8a8a8a;transform:translateX(25.72px) scaleX(0.9000);-webkit-text-stroke:0.4px currentColor;">0 </span><span class="t" style="top:368px;font-size:12px;line-height:12px;color:#8a8a8a;transform:translateX(36.06px) scaleX(0.9652);-webkit-text-stroke:0.4px currentColor;">ms</span></div>
<div><span class="t" style="top:380px;font-size:12px;line-height:12px;color:#8a8a8a;transform:translateX(111.73px) scaleX(0.9784);-webkit-text-stroke:0.4px currentColor;">145</span></div>
<div><span class="t" style="top:380px;font-size:12px;line-height:12px;color:#8a8a8a;transform:translateX(191.73px) scaleX(0.9784);-webkit-text-stroke:0.4px currentColor;">149</span></div>
<div><span class="t" style="top:380px;font-size:12px;line-height:12px;color:#8a8a8a;transform:translateX(272.00px) scaleX(0.9525);-webkit-text-stroke:0.4px currentColor;">153</span></div>
<div><span class="t" style="top:380px;font-size:12px;line-height:12px;color:#8a8a8a;transform:translateX(351.73px) scaleX(0.9784);-webkit-text-stroke:0.4px currentColor;">157</span></div>
<div><span class="t" style="top:380px;font-size:12px;line-height:12px;color:#8a8a8a;transform:translateX(432.00px) scaleX(0.9525);-webkit-text-stroke:0.4px currentColor;">163</span></div>
<div><span class="t" style="top:380px;font-size:12px;line-height:12px;color:#8a8a8a;transform:translateX(511.73px) scaleX(0.9784);-webkit-text-stroke:0.4px currentColor;">167</span></div>
<div><span class="t" style="top:380px;font-size:12px;line-height:12px;color:#8a8a8a;transform:translateX(592.79px) scaleX(0.8754);-webkit-text-stroke:0.4px currentColor;">171</span></div>
<div><span class="t" style="top:380px;font-size:12px;line-height:12px;color:#8a8a8a;transform:translateX(671.73px) scaleX(0.9784);-webkit-text-stroke:0.4px currentColor;">175</span></div>
<div><span class="t" style="top:380px;font-size:12px;line-height:12px;color:#8a8a8a;transform:translateX(751.73px) scaleX(0.9784);-webkit-text-stroke:0.4px currentColor;">179</span></div>
<div><span class="t" style="top:380px;font-size:12px;line-height:12px;color:#8a8a8a;transform:translateX(832.00px) scaleX(0.9525);-webkit-text-stroke:0.4px currentColor;">183</span></div>
<div><span class="t" style="top:380px;font-size:12px;line-height:12px;color:#8a8a8a;transform:translateX(911.73px) scaleX(0.9784);-webkit-text-stroke:0.4px currentColor;">187</span></div>
<div><span class="t" style="top:380px;font-size:12px;line-height:12px;color:#8a8a8a;transform:translateX(992.79px) scaleX(0.8754);-webkit-text-stroke:0.4px currentColor;">191</span></div>
<div><span class="t" style="top:304px;font-size:12px;line-height:12px;color:#8a8a8a;transform:translateX(979.50px) scaleX(0.9507);-webkit-text-stroke:0.4px currentColor;">60 </span><span class="t" style="top:304px;font-size:12px;line-height:12px;color:#8a8a8a;transform:translateX(995.91px) scaleX(0.9171);-webkit-text-stroke:0.4px currentColor;">FPS</span></div>
<div><span class="t" style="top:361px;font-size:14px;line-height:14px;color:#ffffff;transform:translateX(1040.00px) scaleX(0.9509);-webkit-text-stroke:0.4px currentColor;">34 </span><span class="t" style="top:361px;font-size:14px;line-height:14px;color:#ffffff;transform:translateX(1058.75px) scaleX(0.8940);-webkit-text-stroke:0.4px currentColor;">FPS </span><span class="t" style="top:361px;font-size:14px;line-height:14px;color:#ffffff;transform:translateX(1087.29px) scaleX(0.9725);-webkit-text-stroke:0.4px currentColor;">(average)</span></div>
<div><span class="t" style="top:227px;font-size:14px;line-height:14px;color:#ffffff;transform:translateX(1063.70px) scaleX(0.9700);-webkit-text-stroke:0.4px currentColor;">Frame </span><span class="t" style="top:227px;font-size:14px;line-height:14px;color:#ffffff;transform:translateX(1106.42px) scaleX(1.0298);-webkit-text-stroke:0.4px currentColor;">Time </span><span class="t" style="top:227px;font-size:14px;line-height:14px;color:#ffffff;transform:translateX(1141.73px) scaleX(0.9399);-webkit-text-stroke:0.4px currentColor;">(UI)</span></div>
<div><span class="t" style="top:249px;font-size:14px;line-height:14px;color:#ffffff;transform:translateX(1063.70px) scaleX(0.9700);-webkit-text-stroke:0.4px currentColor;">Frame </span><span class="t" style="top:249px;font-size:14px;line-height:14px;color:#ffffff;transform:translateX(1106.42px) scaleX(1.0298);-webkit-text-stroke:0.4px currentColor;">Time </span><span class="t" style="top:249px;font-size:14px;line-height:14px;color:#ffffff;transform:translateX(1141.72px) scaleX(0.9727);-webkit-text-stroke:0.4px currentColor;">(Raster)</span></div>
<div><span class="t" style="top:271px;font-size:14px;line-height:14px;color:#ffffff;transform:translateX(1064.60px) scaleX(1.0000);-webkit-text-stroke:0.4px currentColor;">Jank </span><span class="t" style="top:271px;font-size:14px;line-height:14px;color:#ffffff;transform:translateX(1098.58px) scaleX(1.0201);-webkit-text-stroke:0.4px currentColor;">(slow </span><span class="t" style="top:271px;font-size:14px;line-height:14px;color:#ffffff;transform:translateX(1135.64px) scaleX(1.0250);-webkit-text-stroke:0.4px currentColor;">frame)</span></div>
<div><span class="t" style="top:293px;font-size:14px;line-height:14px;color:#ffffff;transform:translateX(1064.60px) scaleX(0.9608);-webkit-text-stroke:0.4px currentColor;">Shader </span><span class="t" style="top:293px;font-size:14px;line-height:14px;color:#ffffff;transform:translateX(1111.95px) scaleX(1.0100);-webkit-text-stroke:0.4px currentColor;">Compilation</span></div>
<div><span class="t" style="top:430px;font-size:14px;line-height:14px;color:#ffffff;transform:translateX(21.25px) scaleX(0.9779);-webkit-text-stroke:0.3px currentColor;font-weight:bold;">Timeline </span><span class="t" style="top:430px;font-size:14px;line-height:14px;color:#ffffff;transform:translateX(80.38px) scaleX(0.8994);-webkit-text-stroke:0.3px currentColor;font-weight:bold;">Events</span></div>
<div><span class="t" style="top:429px;font-size:16px;line-height:16px;color:#3d8fe0;transform:translateX(959.11px) scaleX(0.9639);-webkit-text-stroke:0.4px currentColor;">Search</span></div>
<div><span class="t" style="top:462px;font-size:14px;line-height:14px;color:#ffffff;transform:translateX(238.50px) scaleX(0.9993);-webkit-text-stroke:0.4px currentColor;">682562.322 </span><span class="t" style="top:462px;font-size:14px;line-height:14px;color:#ffffff;transform:translateX(316.61px) scaleX(0.9942);-webkit-text-stroke:0.4px currentColor;">ms</span></div>
<div><span class="t" style="top:462px;font-size:14px;line-height:14px;color:#ffffff;transform:translateX(513.80px) scaleX(1.0023);-webkit-text-stroke:0.4px currentColor;">682576.524 </span><span class="t" style="top:462px;font-size:14px;line-height:14px;color:#ffffff;transform:translateX(591.91px) scaleX(0.9942);-webkit-text-stroke:0.4px currentColor;">ms</span></div>
<div><span class="t" style="top:462px;font-size:14px;line-height:14px;color:#ffffff;transform:translateX(788.50px) scaleX(1.0025);-webkit-text-stroke:0.4px currentColor;">682590.726 </span><span class="t" style="top:462px;font-size:14px;line-height:14px;color:#ffffff;transform:translateX(867.01px) scaleX(0.9994);-webkit-text-stroke:0.4px currentColor;">ms</span></div>
<div><span class="t" style="top:462px;font-size:14px;line-height:14px;color:#ffffff;transform:translateX(1065.00px) scaleX(0.9974);-webkit-text-stroke:0.4px currentColor;">682604.928 </span><span class="t" style="top:462px;font-size:14px;line-height:14px;color:#ffffff;transform:translateX(1143.11px) scaleX(0.9942);-webkit-text-stroke:0.4px currentColor;">ms</span></div>
<div><span class="t" style="top:580px;font-size:14px;line-height:14px;color:#ffffff;transform:translateX(21.25px) scaleX(0.9013);-webkit-text-stroke:0.3px currentColor;font-weight:bold;">CPU </span><span class="t" style="top:580px;font-size:14px;line-height:14px;color:#ffffff;transform:translateX(52.19px) scaleX(0.9423);-webkit-text-stroke:0.3px currentColor;font-weight:bold;">Profile: </span><span class="t" style="top:580px;font-size:14px;line-height:14px;color:#ffffff;transform:translateX(100.61px) scaleX(0.9286);-webkit-text-stroke:0.3px currentColor;font-weight:bold;">Animator::</span><span class="t" style="top:580px;font-size:14px;line-height:14px;color:#ffffff;transform:translateX(167.06px) scaleX(0.9354);-webkit-text-stroke:0.3px currentColor;font-weight:bold;">BeginFrame </span><span class="t" style="top:580px;font-size:14px;line-height:14px;color:#ffffff;transform:translateX(247.35px) scaleX(1.0203);-webkit-text-stroke:0.3px currentColor;font-weight:bold;">(11.3 </span><span class="t" style="top:580px;font-size:14px;line-height:14px;color:#ffffff;transform:translateX(283.27px) scaleX(0.9694);-webkit-text-stroke:0.3px currentColor;font-weight:bold;">ms)</span></div>
<div><span class="t" style="top:614px;font-size:14px;line-height:14px;color:#b0b0b0;transform:translateX(20.77px) scaleX(0.9372);-webkit-text-stroke:0.1px currentColor;font-weight:bold;">Summary</span></div>
<div><span class="t" style="top:614px;font-size:14px;line-height:14px;color:#b0b0b0;transform:translateX(113.77px) scaleX(0.9348);-webkit-text-stroke:0.1px currentColor;font-weight:bold;">Bottom </span><span class="t" style="top:614px;font-size:14px;line-height:14px;color:#b0b0b0;transform:translateX(163.21px) scaleX(0.9323);-webkit-text-stroke:0.1px currentColor;font-weight:bold;">Up</span></div>
<div><span class="t" style="top:614px;font-size:14px;line-height:14px;color:#ffffff;transform:translateX(212.53px) scaleX(0.9209);-webkit-text-stroke:0.1px currentColor;font-weight:bold;">Call </span><span class="t" style="top:614px;font-size:14px;line-height:14px;color:#ffffff;transform:translateX(239.90px) scaleX(0.9726);-webkit-text-stroke:0.1px currentColor;font-weight:bold;">Tree</span></div>
<div><span class="t" style="top:614px;font-size:14px;line-height:14px;color:#b0b0b0;transform:translateX(299.54px) scaleX(0.9106);-webkit-text-stroke:0.1px currentColor;font-weight:bold;">CPU </span><span class="t" style="top:614px;font-size:14px;line-height:14px;color:#b0b0b0;transform:translateX(330.59px) scaleX(0.9516);-webkit-text-stroke:0.1px currentColor;font-weight:bold;">Flame </span><span class="t" style="top:614px;font-size:14px;line-height:14px;color:#b0b0b0;transform:translateX(372.84px) scaleX(0.9232);-webkit-text-stroke:0.1px currentColor;font-weight:bold;">Chart</span></div>
<div><span class="t" style="top:615px;font-size:14px;line-height:14px;color:#7c7c7c;transform:translateX(838.58px) scaleX(0.9934);-webkit-text-stroke:0.4px currentColor;">Filter </span><span class="t" style="top:615px;font-size:14px;line-height:14px;color:#7c7c7c;transform:translateX(873.65px) scaleX(0.9125);-webkit-text-stroke:0.4px currentColor;">by </span><span class="t" style="top:615px;font-size:14px;line-height:14px;color:#7c7c7c;transform:translateX(891.14px) scaleX(0.9977);-webkit-text-stroke:0.4px currentColor;">tag: </span><span class="t" style="top:615px;font-size:14px;line-height:14px;color:#7c7c7c;transform:translateX(918.36px) scaleX(0.9721);-webkit-text-stroke:0.4px currentColor;">none</span></div>
<div><span class="t" style="top:615px;font-size:14px;line-height:14px;color:#ffffff;transform:translateX(1001.00px) scaleX(0.9188);-webkit-text-stroke:0.3px currentColor;font-weight:bold;">Expand </span><span class="t" style="top:615px;font-size:14px;line-height:14px;color:#ffffff;transform:translateX(1051.23px) scaleX(0.9230);-webkit-text-stroke:0.3px currentColor;font-weight:bold;">All</span></div>
<div><span class="t" style="top:658px;font-size:14px;line-height:14px;color:#48a4e0;transform:translateX(4.50px) scaleX(1.0265);-webkit-text-stroke:0.4px currentColor;">flutter.dev/</span><span class="t" style="top:658px;font-size:14px;line-height:14px;color:#48a4e0;transform:translateX(72.44px) scaleX(1.0188);-webkit-text-stroke:0.4px currentColor;">devtools/</span><span class="t" style="top:658px;font-size:14px;line-height:14px;color:#48a4e0;transform:translateX(130.69px) scaleX(1.0155);-webkit-text-stroke:0.4px currentColor;">performance</span></div>
<div class="abs" style="left:433.5px;top:76.5px;width:300.0px;height:1px;background:#6aa2e0;"></div>
<div class="abs" style="left:373.5px;top:162.5px;width:447.0px;height:1px;background:#6aa2e0;"></div>
<div><span class="t" style="top:629px;font-size:17.5px;line-height:17.5px;color:rgba(255,255,255,0.43);transform:translateX(889.98px) scaleX(1.0192);">@稀土掘金技术社区</span></div>
</div>
</body></html>
